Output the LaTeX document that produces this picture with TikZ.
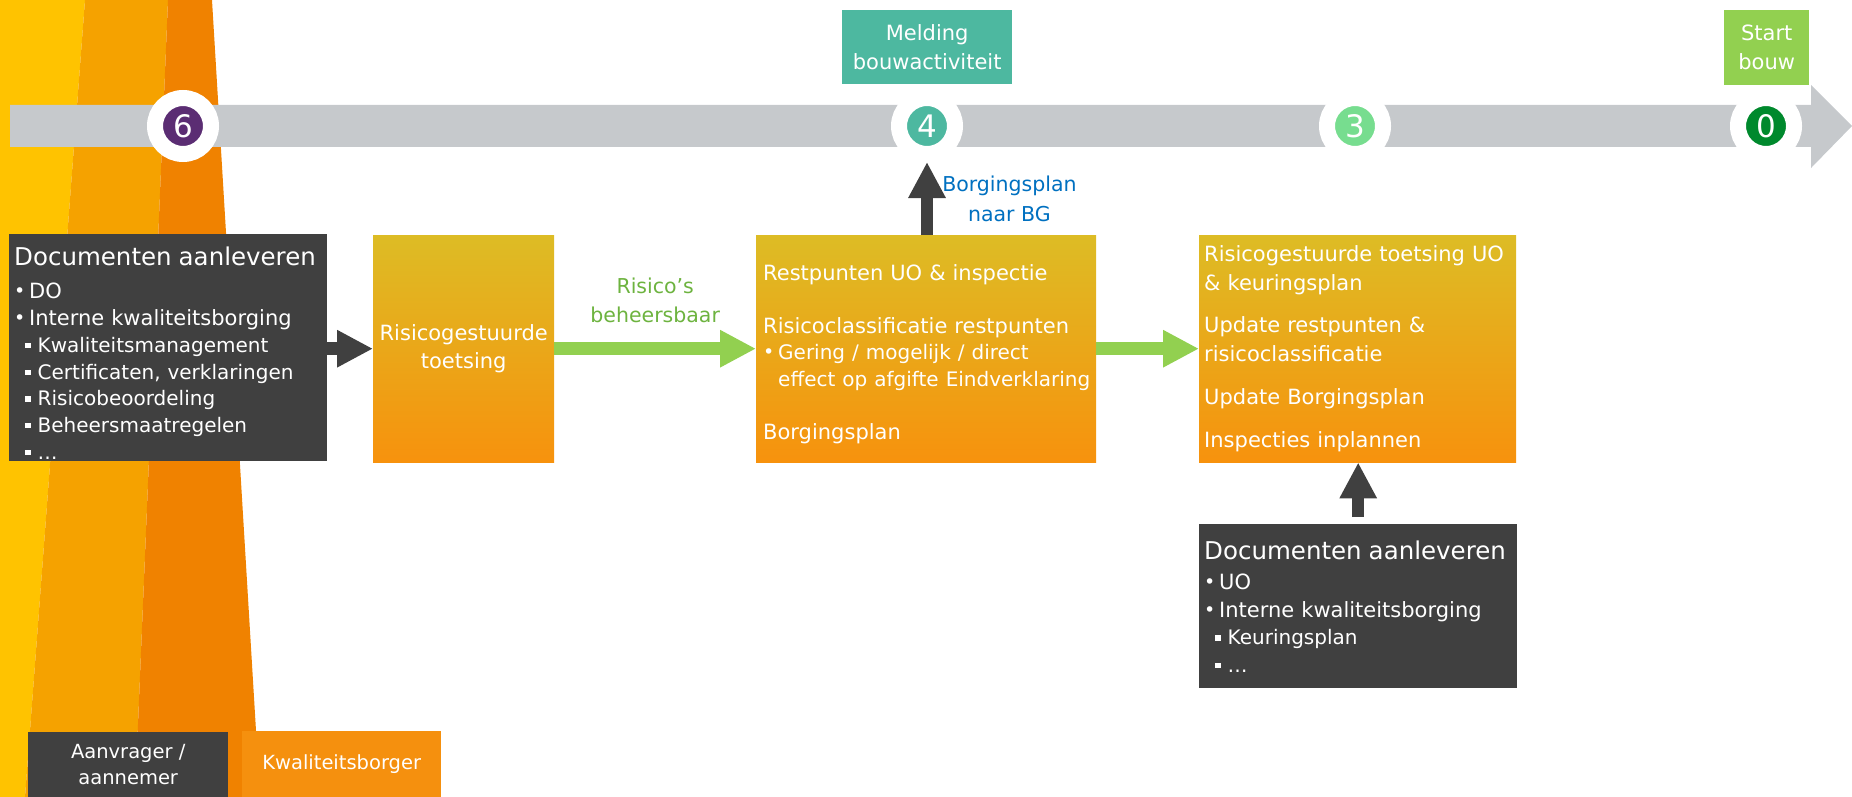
\documentclass[tikz,border=0pt]{standalone}
\usepackage{fontspec}
\setmainfont{DejaVu Sans}
\usetikzlibrary{positioning,arrows.meta}

\definecolor{bandyellow}{HTML}{FFC300}
\definecolor{bandmid}{HTML}{F5A200}
\definecolor{banddark}{HTML}{F08200}
\definecolor{bargrey}{HTML}{C6C9CC}
\definecolor{boxgrey}{HTML}{404040}
\definecolor{gradtop}{HTML}{DDBC25}
\definecolor{gradbot}{HTML}{F7920D}
\definecolor{tealbox}{HTML}{4DB8A0}
\definecolor{greenbox}{HTML}{92D050}
\definecolor{labelgreen}{HTML}{6DB33F}
\definecolor{labelblue}{HTML}{0070C0}
\definecolor{markpurple}{HTML}{5B2D73}
\definecolor{marklight}{HTML}{77DD8F}
\definecolor{markdark}{HTML}{00892D}
\definecolor{orangelabel}{HTML}{F5900E}

\hyphenpenalty=10000
\newcommand{\itembul}{\makebox[15pt][l]{\raisebox{1pt}{\fontsize{19}{19}\selectfont\textbullet}}}
\newcommand{\itemsq}{\hspace*{11pt}\rule[4pt]{5.5pt}{5.5pt}\hspace{7pt}}

\tikzset{
    docs/.style={fill=boxgrey, text=white, anchor=north west, inner sep=0pt, minimum width=318, text width=308pt, align=left},
    phase/.style={top color=gradtop, bottom color=gradbot, text=white, anchor=north west, inner sep=0pt, minimum height=227, font=\fontsize{21}{28}\selectfont},
    tag/.style={text=white, anchor=north west, inner sep=0pt, align=center, font=\fontsize{21}{29}\selectfont},
    milestone/.style={circle, draw=white, line width=16pt, minimum size=56pt, inner sep=0pt, text=white, font=\fontsize{31}{31}\selectfont},
    flow/.style={line width=12.5pt, -{Triangle[width=35pt,length=36pt]}}
}

\begin{document}
\begin{tikzpicture}[x=1pt, y=-1pt]
                \useasboundingbox (0,0) rectangle (1852,797);
                \fill[bandyellow] (0,0) -- (85,0) -- (25,797) -- (0,797) -- cycle;
                \fill[bandmid] (85,0) -- (168,0) -- (135,797) -- (25,797) -- cycle;
                \fill[banddark] (168,0) -- (212,0) -- (260,797) -- (135,797) -- cycle;

                % tijdlijn
                \fill[bargrey] (10,105) -- (1811,105) -- (1811,85) -- (1852,126) -- (1811,168) -- (1811,147) -- (10,147) -- cycle;
                \node[milestone, fill=markpurple] (m6) at (183,126) {6};
                \node[milestone, fill=tealbox] (m4) at (927,126) {4};
                \node[milestone, fill=marklight] (m3) at (1355,126) {3};
                \node[milestone, fill=markdark] (m0) at (1766,126) {0};
                \node[tag, fill=tealbox, minimum width=170, minimum height=74] (melding) at (842,10) {Melding\\bouwactiviteit};
                \node[tag, fill=greenbox, minimum width=85, minimum height=75] (start) at (1724,10) {Start\\bouw};

                \node[docs, minimum height=227, font=\fontsize{21}{26.7}\selectfont] (docsdo) at (9,234) {\rule{0pt}{29pt}{\fontsize{24.5}{29}\selectfont Documenten aanleveren}\\[7pt]
                    \itembul DO\\
                    \itembul Interne kwaliteitsborging\\
                    {\fontsize{20}{26.7}\selectfont\itemsq Kwaliteitsmanagement\\
                    \itemsq Certificaten, verklaringen\\
                    \itemsq Risicobeoordeling\\
                    \itemsq Beheersmaatregelen\\
                    \itemsq …}};
                \node[phase, minimum width=181, text width=181pt, align=center] (risk) at (373,235) {Risicogestuurde\\toetsing};
                \node[phase, minimum width=340, text width=326pt, align=left, font=\fontsize{21}{26.5}\selectfont] (plan) at (756,235) {\rule{0pt}{26pt}Restpunten UO \& inspectie\\[26.5pt]
                    Risicoclassificatie restpunten\\
                    {\fontsize{20}{26.5}\selectfont\itembul Gering / mogelijk / direct\\
                    \hspace*{15pt}\mbox{effect op afgifte Eindverklaring}}\\[26.5pt]
                    Borgingsplan};
                \node[phase, minimum width=317, text width=307pt, align=left, font=\fontsize{21}{29}\selectfont] (plan3) at (1199,235) {Risicogestuurde toetsing UO\\
                    \& keuringsplan\\[13pt]
                    Update restpunten \&\\
                    risicoclassificatie\\[14pt]
                    Update Borgingsplan\\[14pt]
                    Inspecties inplannen};
                \node[docs, minimum height=164, font=\fontsize{21}{27.5}\selectfont] (docsuo) at (1199,524) {{\fontsize{24.5}{29}\selectfont Documenten aanleveren}\\[3pt]
                    \itembul UO\\
                    \itembul Interne kwaliteitsborging\\
                    {\fontsize{20}{27.5}\selectfont\itemsq Keuringsplan\\
                    \itemsq …}};

                \draw[flow, boxgrey] (docsdo.east |- risk.west) -- (risk.west);
                \draw[flow, greenbox] (risk) -- node[midway, above=20pt, inner sep=0pt, align=center, text=labelgreen, font=\fontsize{20.5}{29}\selectfont] (beheersbaar) {Risico’s\\beheersbaar} (plan);
                \draw[flow, greenbox] (plan) -- (plan3);
                \draw[flow, boxgrey] (m4 |- plan.north) -- node[midway, right=9pt, inner sep=0pt, align=center, text=labelblue, font=\fontsize{20.5}{30}\selectfont] (naarbg) {Borgingsplan\\naar BG} (m4.south);
                \draw[flow, boxgrey, shorten <=7pt] (docsuo.north) -- (docsuo.north |- plan3.south);

                \node[tag, fill=boxgrey, minimum width=200, minimum height=65, font=\fontsize{19.5}{26}\selectfont] (aanvrager) at (28,732) {Aanvrager /\\aannemer};
                \node[tag, fill=orangelabel, minimum width=199, minimum height=66, font=\fontsize{19.5}{26}\selectfont] (borger) at (242,731) {Kwaliteitsborger};
            \end{tikzpicture}
\end{document}
